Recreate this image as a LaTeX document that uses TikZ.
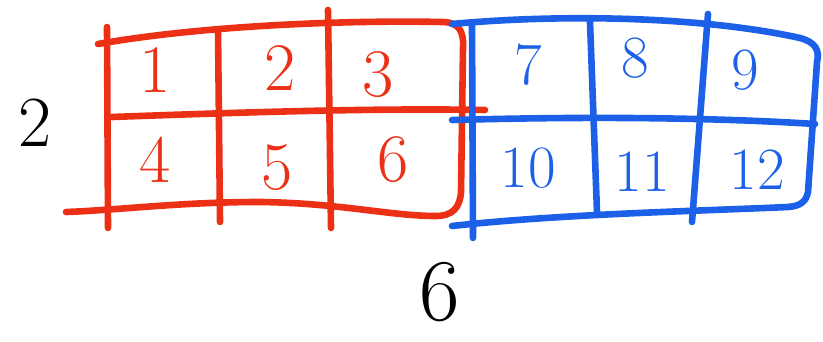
\documentclass[tikz,border=0pt]{standalone}
\definecolor{gridred}{RGB}{236,48,22}
\definecolor{gridblue}{RGB}{28,96,232}
\usepackage{tikz}

\begin{document}
\begin{tikzpicture}[
  x=0.5pt, y=-0.5pt,
  redline/.style={draw=gridred, line width=3.3pt, line cap=round, line join=round},
  blueline/.style={draw=gridblue, line width=3.3pt, line cap=round, line join=round},
  redcell/.style={text=gridred, font=\fontsize{34}{36}\selectfont},
  bluecell/.style={text=gridblue, font=\fontsize{30}{32}\selectfont},
  dimlabel/.style={text=black, inner sep=0pt, font=\fontsize{36}{38}\selectfont}
]
  \useasboundingbox (0,0) rectangle (823,342);

  % Red block (outline, then inner lines)
  \draw[redline] (98,44) .. controls (200,26) and (340,20) .. (442,22)
    .. controls (458,22) and (464,30) .. (463,48) -- (461,192)
    .. controls (460,208) and (452,216) .. (436,216)
    .. controls (390,216) and (340,203) .. (260,202)
    .. controls (180,202) and (120,210) .. (66,212);
  \draw[redline] (107,27) -- (108,228);
  \draw[redline] (112,117) .. controls (250,112) and (380,108) .. (485,110);
  \draw[redline] (218,30) -- (220,222);
  \draw[redline] (328,10) -- (331,228);

  % Blue block
  \draw[blueline] (452,24) .. controls (560,14) and (700,16) .. (800,38)
    .. controls (815,42) and (820,50) .. (817,62) -- (808,192)
    .. controls (806,202) and (800,206) .. (788,207)
    .. controls (700,211) and (560,214) .. (452,226);
  \draw[blueline] (472,26) -- (473,238);
  \draw[blueline] (452,120) .. controls (600,116) and (720,118) .. (815,124);
  \draw[blueline] (590,22) -- (597,212);
  \draw[blueline] (708,14) -- (692,222);

  % Cell numbers
  \node[redcell] (c1) at (155,70) {1};
  \node[redcell] (c2) at (280,68) {2};
  \node[redcell] (c3) at (378,75) {3};
  \node[redcell] (c4) at (155,160) {4};
  \node[redcell] (c5) at (277,168) {5};
  \node[redcell] (c6) at (393,160) {6};
  \node[bluecell] (c7) at (528,65) {7};
  \node[bluecell] (c8) at (635,58) {8};
  \node[bluecell] (c9) at (745,70) {9};
  \node[bluecell] (c10) at (528,168) {10};
  \node[bluecell] (c11) at (642,172) {11};
  \node[bluecell] (c12) at (757,170) {12};

  % Dimensions
  \node[dimlabel] (rows) at (35,123) {2};
  \node[dimlabel, font=\fontsize{44}{46}\selectfont] (cols) at (440,292) {6};
\end{tikzpicture}
\end{document}
